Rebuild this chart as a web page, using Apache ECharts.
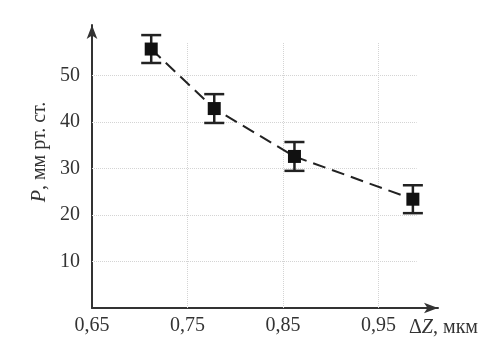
<!DOCTYPE html>
<html>
<head>
<meta charset="utf-8">
<script src="https://cdn.jsdelivr.net/npm/echarts@6/dist/echarts.min.js"></script>
<style>html,body{margin:0;padding:0;background:#fff}#chart{width:496px;height:352px}</style>
</head>
<body>
<div id="chart"></div>
<script>
// ΔZ, мкм
var dz = [0.712, 0.778, 0.862, 0.986]
// P, мм рт. ст.
var p = [55.7, 42.9, 32.6, 23.4]
var pErr = [3.0, 3.1, 3.1, 3.0]
var gridX = [0.75, 0.85, 0.95]
var gridY = [10, 20, 30, 40, 50]

var font = "'Liberation Serif', 'DejaVu Serif', serif"
var chart = echarts.init(document.getElementById("chart"), null, {renderer: "canvas"})

var points = dz.map(function(x, i) { return [x, p[i]] })
var bars = dz.map(function(x, i) { return [x, p[i] - pErr[i], p[i] + pErr[i]] })
var marks = gridX.map(function(v) { return {xAxis: v} }).concat(gridY.map(function(v) { return {yAxis: v} }))

chart.setOption({
    animation: false,
    grid: [
        {left: 92, right: 58, top: 25, bottom: 44},
        {left: 92, right: 79.3, top: 43, bottom: 44},
    ],
    xAxis: [
        {gridIndex: 0, type: "value", min: 0.65, max: 1.0123,
            axisLine: {lineStyle: {color: "#333", width: 2}, symbol: ["none", "arrow"], symbolSize: [8, 14]},
            axisTick: {show: false}, axisLabel: {show: false}, splitLine: {show: false}},
        {gridIndex: 1, type: "value", min: 0.65, max: 0.99, interval: 0.1,
            axisLine: {show: false}, axisTick: {show: false}, splitLine: {show: false},
            axisLabel: {margin: 8, color: "#333", fontFamily: font, fontSize: 20, showMaxLabel: false,
                formatter: function(v) { return v.toFixed(2).replace(".", ",") }}},
    ],
    yAxis: [
        {gridIndex: 0, type: "value", min: 0, max: 61,
            axisLine: {show: true, lineStyle: {color: "#333", width: 2}, symbol: ["none", "arrow"], symbolSize: [8, 14]},
            axisTick: {show: false}, axisLabel: {show: false}, splitLine: {show: false}},
        {gridIndex: 1, type: "value", min: 0, max: 57, interval: 10,
            axisLine: {show: false}, axisTick: {show: false}, splitLine: {show: false},
            axisLabel: {margin: 12, color: "#333", fontFamily: font, fontSize: 20, showMinLabel: false, showMaxLabel: false}},
    ],
    graphic: [
        {type: "text", x: 40, y: 152, rotation: Math.PI / 2, style: {
            text: "{i|P}, мм рт. ст.", fill: "#333", font: "20px " + font, align: "center", verticalAlign: "middle",
            rich: {i: {fontStyle: "italic", fontFamily: font, fontSize: 20}}}},
        {type: "text", x: 409, y: 328, style: {
            text: "\u0394{i|Z}, мкм", fill: "#333", font: "20px " + font, align: "left", verticalAlign: "middle",
            rich: {i: {fontStyle: "italic", fontFamily: font, fontSize: 20}}}},
    ],
    series: [
        {type: "line", xAxisIndex: 1, yAxisIndex: 1, data: points, z: 3,
            symbol: "rect", symbolSize: 13, itemStyle: {color: "#111"},
            lineStyle: {color: "#222", width: 2, type: [13, 7]},
            markLine: {silent: true, symbol: "none", label: {show: false}, z: 1,
                lineStyle: {type: "dotted", color: "#d4d4d4", width: 1}, emphasis: {disabled: true}, data: marks}},
        {type: "custom", xAxisIndex: 1, yAxisIndex: 1, data: bars, z: 2,
            renderItem: function(params, api) {
                var lo = api.coord([api.value(0), api.value(1)])
                var hi = api.coord([api.value(0), api.value(2)])
                var w = 10, st = {stroke: "#222", lineWidth: 2.5}
                return {type: "group", children: [
                    {type: "line", shape: {x1: lo[0], y1: lo[1], x2: hi[0], y2: hi[1]}, style: st},
                    {type: "line", shape: {x1: lo[0] - w, y1: lo[1], x2: lo[0] + w, y2: lo[1]}, style: st},
                    {type: "line", shape: {x1: hi[0] - w, y1: hi[1], x2: hi[0] + w, y2: hi[1]}, style: st},
                ]}
            }},
    ],
})
</script>
</body>
</html>
